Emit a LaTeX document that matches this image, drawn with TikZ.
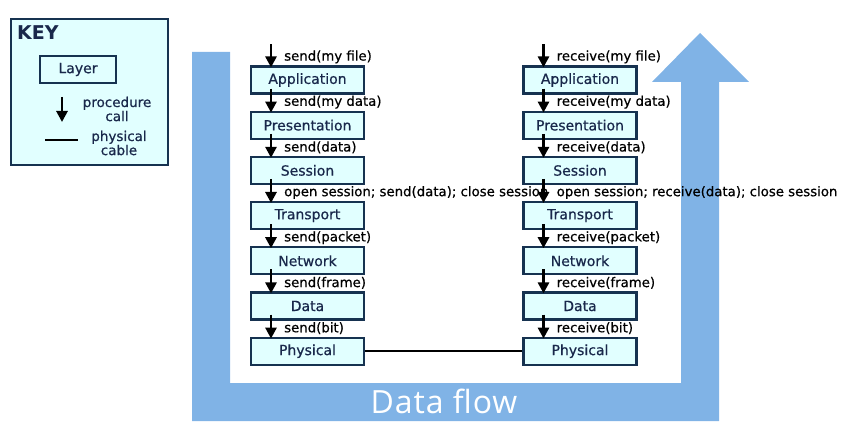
\documentclass[tikz,border=0pt]{standalone}
\usepackage{fontspec}
\setmainfont{DejaVu Sans}
\newfontfamily\callfont{DejaVu Sans}[FakeBold=0.6]
\newfontfamily\flowfont{Open Sans}
\usetikzlibrary{positioning,arrows.meta}
\definecolor{layerline}{RGB}{22,50,80}
\definecolor{layerfill}{RGB}{225,255,255}
\definecolor{layertext}{RGB}{25,40,75}
\definecolor{flowblue}{RGB}{128,179,230}

\begin{document}
\begin{tikzpicture}[x=1pt,y=-1pt,node distance=16pt,
  layer/.style={draw=layerline, line width=2.2pt, fill=layerfill, text=layertext,
    minimum width=113pt, minimum height=27pt, inner sep=0pt,
    font=\callfont\fontsize{14}{16}\selectfont},
  call/.style={line width=2.8pt, -{Triangle[width=11pt,length=11pt]}},
  lbl/.style={anchor=west, inner sep=0pt, font=\callfont\fontsize{13.3}{15}\selectfont},
  keytext/.style={align=center, inner sep=0pt, text=layertext,
    font=\callfont\fontsize{13.5}{11}\selectfont}]
  \useasboundingbox (0,0) rectangle (843,438);
  % data flow band
  \fill[flowblue] (192,52) -- (230,52) -- (230,383) -- (681,383) -- (681,82)
    -- (652,82) -- (700,33) -- (749,82) -- (719,82) -- (719,421)
    -- (192,421) -- cycle;
  \node[text=white, inner sep=0pt, anchor=base,
    font=\flowfont\fontsize{32}{34}\selectfont\addfontfeature{LetterSpace=3}] (flow) at (444,413) {Data flow};
  % key
  \node[draw=layerline, line width=2pt, fill=layerfill,
    minimum width=157pt, minimum height=146pt] (key) at (89,92) {};
  \node[anchor=base west, inner sep=0pt, text=layertext,
    font=\bfseries\fontsize{19}{20}\selectfont] (keyT) at (17,40) {KEY};
  \node[layer, minimum width=76pt] (keyL) at (78,69.5) {Layer};
  \coordinate (keyA1) at (62,97);
  \coordinate (keyA2) at (62,122);
  \draw[call] (keyA1) -- (keyA2);
  \node[keytext] (keyP) at (117,109) {procedure\\call};
  \coordinate (keyC1) at (45,140);
  \coordinate (keyC2) at (78,140);
  \draw[line width=1.6pt] (keyC1) -- (keyC2);
  \node[keytext] (keyPh) at (119,143) {physical\\cable};
  % sending side
  \node[layer] (appL) at (307.5,80) {Application};
  \node[layer, below=of appL] (preL) {Presentation};
  \node[layer, below=of preL] (sesL) {Session};
  \node[layer, below=of sesL] (traL) {Transport};
  \node[layer, below=of traL] (netL) {Network};
  \node[layer, below=of netL] (datL) {Data};
  \node[layer, below=of datL] (phyL) {Physical};
  % receiving side
  \node[layer] (appR) at (580,80) {Application};
  \node[layer, below=of appR] (preR) {Presentation};
  \node[layer, below=of preR] (sesR) {Session};
  \node[layer, below=of sesR] (traR) {Transport};
  \node[layer, below=of traR] (netR) {Network};
  \node[layer, below=of netR] (datR) {Data};
  \node[layer, below=of datR] (phyR) {Physical};
  % cable
  \draw[line width=1.6pt] (phyL) -- (phyR);
  % procedure calls
  \node[lbl] (l1L) at ([xshift=-23.5pt,yshift=8.5pt]appL.north) {send(my file)};
  \node[lbl] (l2L) at ([xshift=-23.5pt,yshift=8.5pt]preL.north) {send(my data)};
  \node[lbl] (l3L) at ([xshift=-23.5pt,yshift=8.5pt]sesL.north) {send(data)};
  \node[lbl] (l4L) at ([xshift=-23.5pt,yshift=8.5pt]traL.north) {open session; send(data); close session};
  \node[lbl] (l5L) at ([xshift=-23.5pt,yshift=8.5pt]netL.north) {send(packet)};
  \node[lbl] (l6L) at ([xshift=-23.5pt,yshift=8.5pt]datL.north) {send(frame)};
  \node[lbl] (l7L) at ([xshift=-23.5pt,yshift=8.5pt]phyL.north) {send(bit)};
  \node[lbl] (l1R) at ([xshift=-23.5pt,yshift=8.5pt]appR.north) {receive(my file)};
  \node[lbl] (l2R) at ([xshift=-23.5pt,yshift=8.5pt]preR.north) {receive(my data)};
  \node[lbl] (l3R) at ([xshift=-23.5pt,yshift=8.5pt]sesR.north) {receive(data)};
  \node[lbl] (l4R) at ([xshift=-23.5pt,yshift=8.5pt]traR.north) {open session; receive(data); close session};
  \node[lbl] (l5R) at ([xshift=-23.5pt,yshift=8.5pt]netR.north) {receive(packet)};
  \node[lbl] (l6R) at ([xshift=-23.5pt,yshift=8.5pt]datR.north) {receive(frame)};
  \node[lbl] (l7R) at ([xshift=-23.5pt,yshift=8.5pt]phyR.north) {receive(bit)};
  \coordinate (inL) at ([xshift=-36.5pt,yshift=21pt]appL.north);
  \coordinate (inR) at ([xshift=-36.5pt,yshift=21pt]appR.north);
  \draw[call] (inL) -- ([xshift=-36.5pt,yshift=-2pt]appL.north);
  \draw[call] ([xshift=-36.5pt,yshift=6pt]appL.south) -- ([xshift=-36.5pt,yshift=-2pt]preL.north);
  \draw[call] ([xshift=-36.5pt,yshift=6pt]preL.south) -- ([xshift=-36.5pt,yshift=-2pt]sesL.north);
  \draw[call] ([xshift=-36.5pt,yshift=6pt]sesL.south) -- ([xshift=-36.5pt,yshift=-2pt]traL.north);
  \draw[call] ([xshift=-36.5pt,yshift=6pt]traL.south) -- ([xshift=-36.5pt,yshift=-2pt]netL.north);
  \draw[call] ([xshift=-36.5pt,yshift=6pt]netL.south) -- ([xshift=-36.5pt,yshift=-2pt]datL.north);
  \draw[call] ([xshift=-36.5pt,yshift=6pt]datL.south) -- ([xshift=-36.5pt,yshift=-2pt]phyL.north);
  \draw[call] (inR) -- ([xshift=-36.5pt,yshift=-2pt]appR.north);
  \draw[call] ([xshift=-36.5pt,yshift=6pt]appR.south) -- ([xshift=-36.5pt,yshift=-2pt]preR.north);
  \draw[call] ([xshift=-36.5pt,yshift=6pt]preR.south) -- ([xshift=-36.5pt,yshift=-2pt]sesR.north);
  \draw[call] ([xshift=-36.5pt,yshift=6pt]sesR.south) -- ([xshift=-36.5pt,yshift=-2pt]traR.north);
  \draw[call] ([xshift=-36.5pt,yshift=6pt]traR.south) -- ([xshift=-36.5pt,yshift=-2pt]netR.north);
  \draw[call] ([xshift=-36.5pt,yshift=6pt]netR.south) -- ([xshift=-36.5pt,yshift=-2pt]datR.north);
  \draw[call] ([xshift=-36.5pt,yshift=6pt]datR.south) -- ([xshift=-36.5pt,yshift=-2pt]phyR.north);
\end{tikzpicture}
\end{document}
